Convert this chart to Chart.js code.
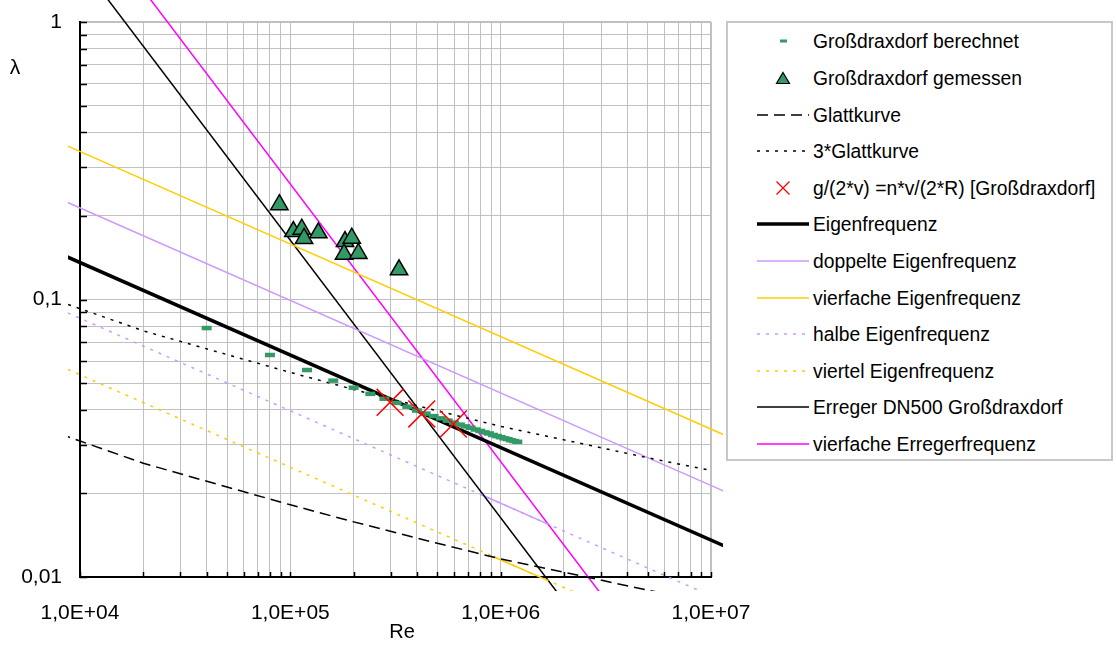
<!DOCTYPE html>
<html lang="de">
<head>
<meta charset="utf-8">
<title>Rohrreibung Großdraxdorf</title>
<script src="https://cdn.jsdelivr.net/npm/chart.js@4.4.1/dist/chart.umd.min.js"></script>
<style>
  body { margin: 0; background: #fff; font-family: "Liberation Sans", Arial, sans-serif; }
  #wrap { position: relative; width: 1116px; height: 646px; }
  #diagramm { display: block; }
  #legende { position: absolute; left: 726px; top: 21px; width: 387px; height: 440px; border: 2px solid #c8c8c8; box-sizing: border-box; background: #fff; }
  .eintrag { position: absolute; left: 0; height: 24px; width: 380px; font-size: 19.3px; color: #000; }
  .eintrag svg { position: absolute; left: 29px; top: 0; }
  .eintrag span { position: absolute; left: 85px; top: 1px; line-height: 24px; white-space: nowrap; }
</style>
</head>
<body>
<div id="wrap">
  <canvas id="diagramm" width="1116" height="646"></canvas>
  <div id="legende"></div>
</div>
<script>
// Achsen
const xTickWerte = [1e4, 1e5, 1e6, 1e7];
const xTickTexte = ['1,0E+04', '1,0E+05', '1,0E+06', '1,0E+07'];
const yTickWerte = [0.01, 0.1, 1];
const yTickTexte = ['0,01', '0,1', '1'];

// Großdraxdorf berechnet
const reBerechnet = [40000, 80000, 120000, 160000, 200000, 240000, 280000, 320000, 360000, 400000,
  440000, 480000, 520000, 560000, 600000, 640000, 680000, 720000, 760000, 800000,
  840000, 880000, 920000, 960000, 1000000, 1040000, 1080000, 1120000, 1160000, 1200000];
const lambdaBerechnet = [0.0789, 0.0631, 0.0557, 0.0510, 0.0481, 0.0457, 0.0439, 0.0424, 0.0411, 0.0398,
  0.0388, 0.0380, 0.0373, 0.0366, 0.0360, 0.0354, 0.0349, 0.0345, 0.0340, 0.0336,
  0.0332, 0.0329, 0.0325, 0.0322, 0.0319, 0.0316, 0.0314, 0.0311, 0.0309, 0.0307];

// Großdraxdorf gemessen
const reGemessen = [88700, 103400, 113300, 116200, 135900, 182000, 195900, 180000, 210600, 328700];
const lambdaGemessen = [0.2196, 0.1758, 0.1792, 0.1659, 0.1739, 0.1618, 0.1663, 0.1456, 0.1465, 0.1279];

// g/(2*v) = n*v/(2*R)
const reKreuz = [298000, 421500, 595800];
const lambdaKreuz = [0.0426, 0.0387, 0.0356];

// Glattkurve und 3*Glattkurve
const reGlatt = [8000, 10000, 20000, 50000, 100000, 200000, 500000, 1000000, 2000000, 5000000, 10000000, 12000000];
const lambdaGlatt = [0.0328, 0.0309, 0.0257, 0.0211, 0.0182, 0.0158, 0.01323, 0.01162, 0.0104, 0.00897, 0.00806, 0.00783];
const lambdaGlatt3 = [0.0984, 0.0927, 0.0771, 0.0633, 0.0546, 0.0474, 0.0397, 0.0349, 0.0312, 0.0269, 0.0242, 0.0235];

// Eigenfrequenz-Geraden (Endpunkte)
const reGerade = [8000, 12000000];
const lambdaEigen = [0.1464, 0.01279];
const lambdaDoppelt = [0.2304, 0.02012];
const lambdaVierfach = [0.3676, 0.0321];
const lambdaHalb = [0.0922, 0.00805];
const lambdaViertel = [0.0577, 0.00504];
// durchgezogene Abschnitte auf halber / viertel Eigenfrequenz
const reHalbAbschnitt = [800000, 1700000];
const lambdaHalbAbschnitt = [0.01986, 0.01545];
const reViertelAbschnitt = [920000, 1660000];
const lambdaViertelAbschnitt = [0.01186, 0.00974];

// Erreger
const reErreger = [10000, 3000000];
const lambdaErreger = [1.635, 0.00545];
const reErreger4 = [15000, 5000000];
const lambdaErreger4 = [1.738, 0.00521];

const gruen = '#339966';
const lila = '#cc99ff';
const gelb = '#ffcc00';
const magenta = '#ff00ff';
const gepunktet = [3, 6];
const gestrichelt = [11, 6];
const clipRand = { left: 12, top: false, right: 12, bottom: 14 };

function punkte(xs, ys) {
  return xs.map((x, i) => ({ x: x, y: ys[i] }));
}

function gitter(werte) {
  const g = [];
  for (let i = 0; i < werte.length - 1; i++) {
    for (let m = 1; m < 10; m++) g.push(werte[i] * m);
  }
  g.push(werte[werte.length - 1]);
  return g;
}

function linie(label, xs, ys, farbe, breite, dash, legende) {
  return {
    label: label, data: punkte(xs, ys), showLine: true,
    borderColor: farbe, backgroundColor: farbe, borderWidth: breite, borderDash: dash,
    pointRadius: 0, clip: clipRand, order: 2, legende: legende
  };
}

const datasets = [
  { label: 'Großdraxdorf berechnet', data: punkte(reBerechnet, lambdaBerechnet), showLine: false,
    pointStyle: 'line', pointRadius: 5, pointBorderWidth: 4.5, borderColor: gruen, backgroundColor: gruen, order: 1, legende: true },
  { label: 'Großdraxdorf gemessen', data: punkte(reGemessen, lambdaGemessen), showLine: false,
    pointStyle: 'triangle', pointRadius: 10, pointBorderWidth: 1.5, borderColor: '#000', backgroundColor: gruen, order: 0, legende: true },
  linie('Glattkurve', reGlatt, lambdaGlatt, '#000', 1.5, gestrichelt, true),
  linie('3*Glattkurve', reGlatt, lambdaGlatt3, '#000', 1.5, gepunktet, true),
  { label: 'g/(2*v) =n*v/(2*R) [Großdraxdorf]', data: punkte(reKreuz, lambdaKreuz), showLine: false,
    pointStyle: 'crossRot', pointRadius: 19, pointBorderWidth: 1.5, borderColor: '#ff0000', backgroundColor: '#ff0000', order: 0, legende: true },
  linie('Eigenfrequenz', reGerade, lambdaEigen, '#000', 3.5, [], true),
  linie('doppelte Eigenfrequenz', reGerade, lambdaDoppelt, lila, 1.5, [], true),
  linie('vierfache Eigenfrequenz', reGerade, lambdaVierfach, gelb, 1.5, [], true),
  linie('halbe Eigenfrequenz', reGerade, lambdaHalb, lila, 1.5, gepunktet, true),
  linie('viertel Eigenfrequenz', reGerade, lambdaViertel, gelb, 1.5, gepunktet, true),
  linie('Erreger DN500 Großdraxdorf', reErreger, lambdaErreger, '#000', 1.5, [], true),
  linie('vierfache Erregerfrequenz', reErreger4, lambdaErreger4, magenta, 1.5, [], true),
  linie('halbe Abschnitt', reHalbAbschnitt, lambdaHalbAbschnitt, lila, 1.5, [], false),
  linie('viertel Abschnitt', reViertelAbschnitt, lambdaViertelAbschnitt, gelb, 1.5, [], false)
];

// Achsentitel und nach innen zeigende Teilstriche
const achsenPlugin = {
  id: 'achsen',
  afterDraw(chart) {
    const ctx = chart.ctx;
    const a = chart.chartArea;
    const sx = chart.scales.x, sy = chart.scales.y;
    ctx.save();
    ctx.strokeStyle = '#000';
    ctx.lineWidth = 1.5;
    ctx.beginPath();
    gitter(xTickWerte).forEach(v => {
      const px = Math.round(sx.getPixelForValue(v)) + 0.5;
      ctx.moveTo(px, a.bottom);
      ctx.lineTo(px, a.bottom - 5);
    });
    gitter(yTickWerte).forEach(v => {
      const py = Math.round(sy.getPixelForValue(v)) + 0.5;
      ctx.moveTo(a.left, py);
      ctx.lineTo(a.left + 7, py);
    });
    ctx.stroke();
    ctx.fillStyle = '#000';
    ctx.font = '21px "Liberation Sans", Arial, sans-serif';
    ctx.textAlign = 'center';
    ctx.textBaseline = 'middle';
    ctx.fillText('λ', 15, 68);
    ctx.font = '20px "Liberation Sans", Arial, sans-serif';
    ctx.fillText('Re', 402, 632);
    ctx.restore();
  }
};

const tickFont = { family: '"Liberation Sans", Arial, sans-serif', size: 21 };

new Chart(document.getElementById('diagramm'), {
  type: 'scatter',
  data: { datasets: datasets },
  plugins: [achsenPlugin],
  options: {
    responsive: false,
    animation: false,
    events: [],
    layout: { padding: { top: 22, right: 405, left: 0, bottom: 0 } },
    plugins: { legend: { display: false }, tooltip: { enabled: false } },
    scales: {
      x: {
        type: 'logarithmic', min: 1e4, max: 1e7,
        afterBuildTicks: (axis) => { axis.ticks = gitter(xTickWerte).map(v => ({ value: v })); },
        afterFit: (scale) => { scale.height = 69; scale.paddingLeft = 0; scale.paddingRight = 0; },
        grid: { color: '#c0c0c0', lineWidth: (c) => c.tick && c.tick.value === 1e7 ? 2 : 1, drawTicks: false },
        border: { color: '#000', width: 2 },
        ticks: {
          autoSkip: false, maxRotation: 0, padding: 24, color: '#000', font: tickFont,
          callback: (v) => { const i = xTickWerte.indexOf(v); return i >= 0 ? xTickTexte[i] : ''; }
        }
      },
      y: {
        type: 'logarithmic', min: 0.01, max: 1,
        afterBuildTicks: (axis) => { axis.ticks = gitter(yTickWerte).map(v => ({ value: v })); },
        afterFit: (scale) => { scale.width = 80; scale.paddingTop = 0; scale.paddingBottom = 0; },
        grid: { color: '#c0c0c0', lineWidth: (c) => c.tick && c.tick.value === 1 ? 2 : 1, drawTicks: false },
        border: { color: '#000', width: 2 },
        ticks: {
          autoSkip: false, padding: 18, color: '#000', font: tickFont,
          callback: (v) => { const i = yTickWerte.indexOf(v); return i >= 0 ? yTickTexte[i] : ''; }
        }
      }
    }
  }
});

// Legende als HTML
function symbol(ds) {
  const ns = 'http://www.w3.org/2000/svg';
  const svg = document.createElementNS(ns, 'svg');
  svg.setAttribute('width', 52);
  svg.setAttribute('height', 24);
  let el;
  if (ds.pointStyle === 'line') {
    el = document.createElementNS(ns, 'rect');
    el.setAttribute('x', 23); el.setAttribute('y', 10.5);
    el.setAttribute('width', 7); el.setAttribute('height', 3);
    el.setAttribute('fill', ds.borderColor);
  } else if (ds.pointStyle === 'triangle') {
    el = document.createElementNS(ns, 'polygon');
    el.setAttribute('points', '26,6.5 32.5,17.5 19.5,17.5');
    el.setAttribute('fill', ds.backgroundColor);
    el.setAttribute('stroke', '#000');
    el.setAttribute('stroke-width', 1.2);
  } else if (ds.pointStyle === 'crossRot') {
    el = document.createElementNS(ns, 'path');
    el.setAttribute('d', 'M19.5,5.5 L32.5,18.5 M32.5,5.5 L19.5,18.5');
    el.setAttribute('stroke', ds.borderColor);
    el.setAttribute('stroke-width', 1.3);
  } else {
    el = document.createElementNS(ns, 'line');
    el.setAttribute('x1', 0); el.setAttribute('x2', 52);
    el.setAttribute('y1', 12); el.setAttribute('y2', 12);
    el.setAttribute('stroke', ds.borderColor);
    el.setAttribute('stroke-width', ds.borderWidth);
    if (ds.borderDash.length) el.setAttribute('stroke-dasharray', ds.borderDash.join(' '));
  }
  svg.appendChild(el);
  return svg;
}

const legende = document.getElementById('legende');
datasets.filter(ds => ds.legende).forEach((ds, i) => {
  const mitte = 41.3 + 36.6 * i;      // absolute y der Symbolmitte
  const zeile = document.createElement('div');
  zeile.className = 'eintrag';
  zeile.style.top = (mitte - 23 - 12) + 'px';
  zeile.appendChild(symbol(ds));
  const text = document.createElement('span');
  text.textContent = ds.label;
  zeile.appendChild(text);
  legende.appendChild(zeile);
});
</script>
</body>
</html>
